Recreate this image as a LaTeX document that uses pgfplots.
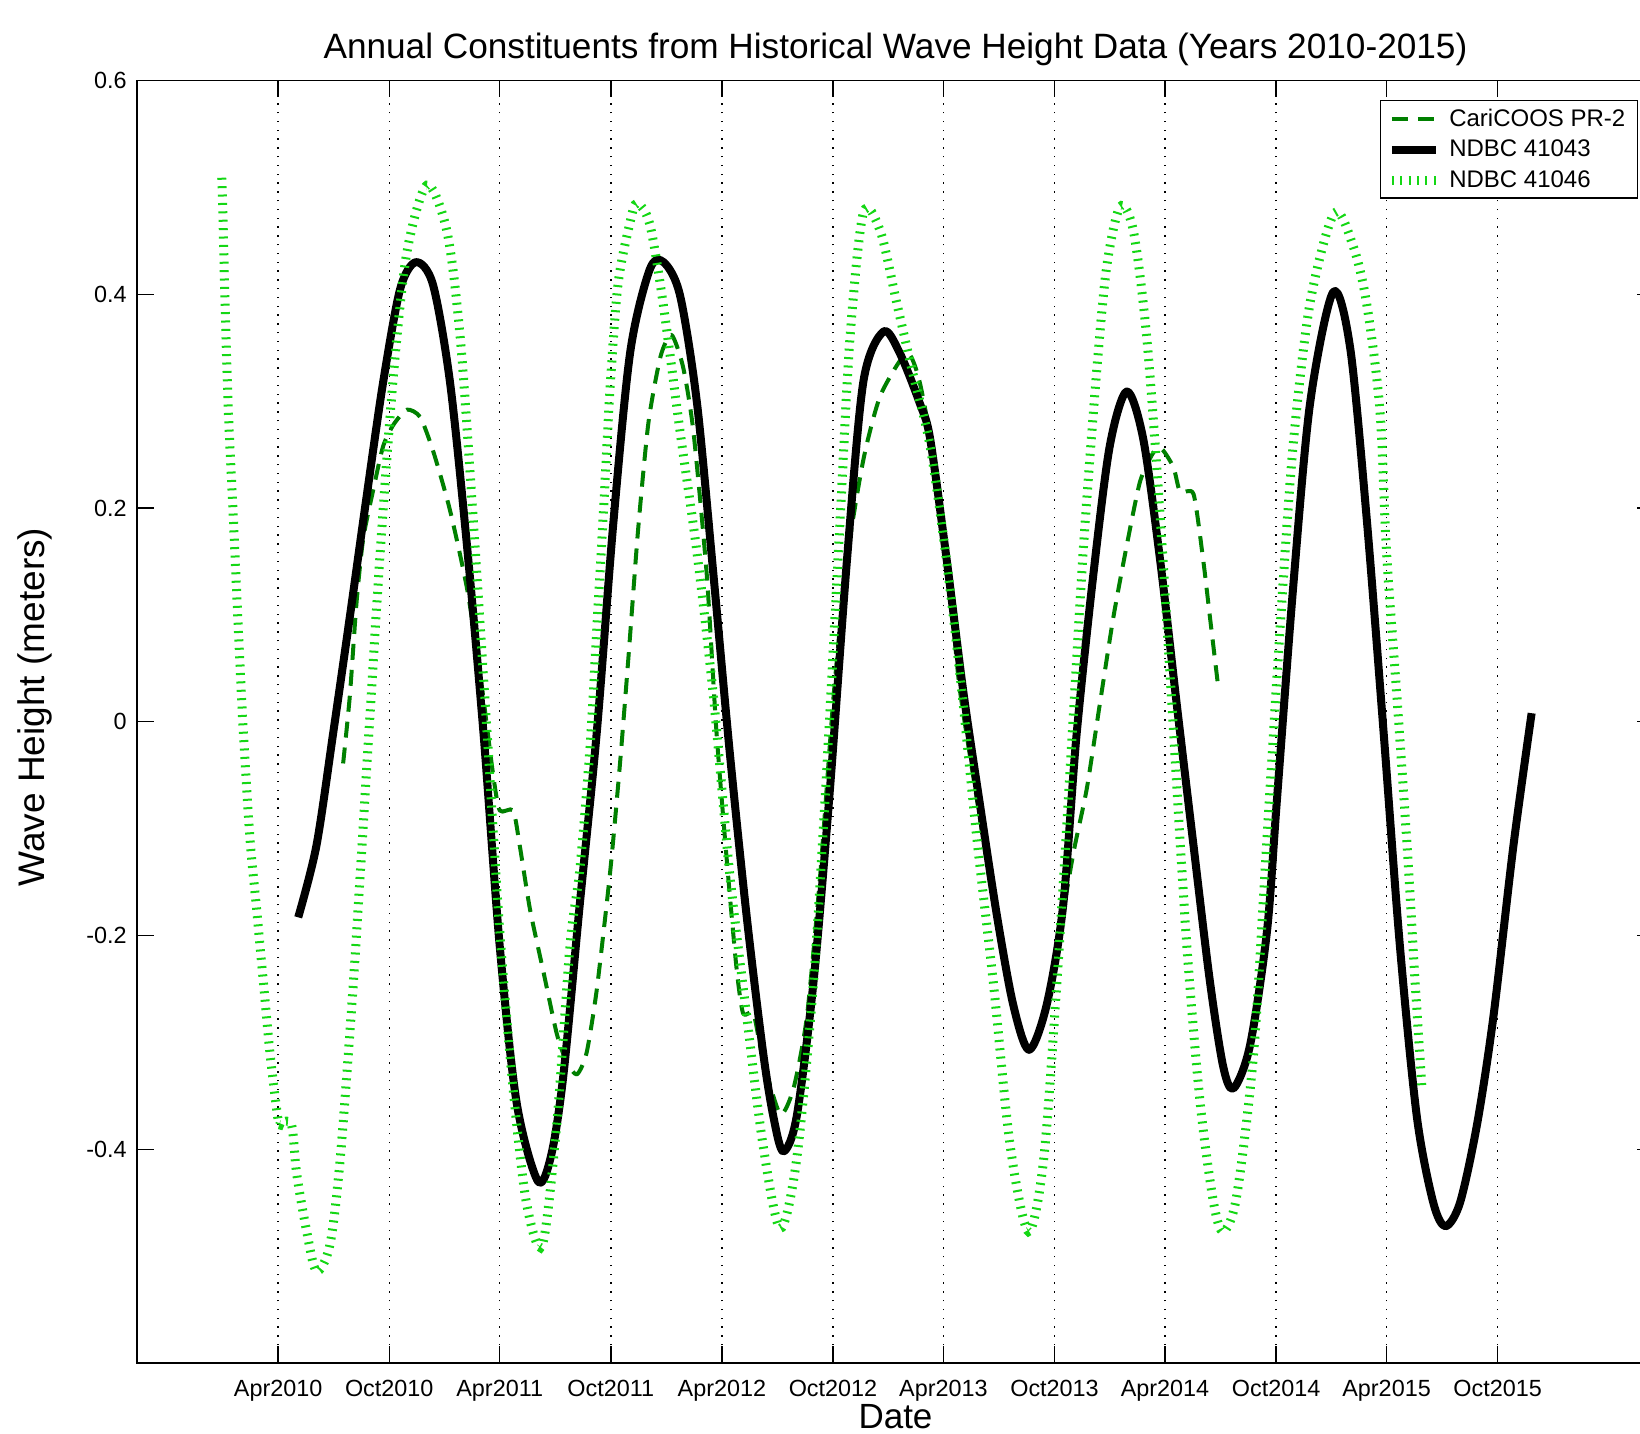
\documentclass[border=0pt]{standalone}
\usepackage{fontspec}
\setmainfont{Liberation Sans}
\usepackage{pgfplots}
\pgfplotsset{compat=1.18}
\definecolor{dgreen}{RGB}{0,128,0}
\definecolor{lgreen}{RGB}{20,215,20}
\begin{document}
\begin{tikzpicture}
\begin{axis}[
  name=ax,
  scale only axis,
  width=758.5pt, height=641.25pt,
  xmin=-142.6, xmax=2356.6, ymin=-0.6, ymax=0.6,
  xtick={90,273,455,638,821,1004,1186,1369,1551,1734,1916,2099},
  xticklabels={Apr2010,Oct2010,Apr2011,Oct2011,Apr2012,Oct2012,Apr2013,Oct2013,Apr2014,Oct2014,Apr2015,Oct2015},
  ytick={-0.4,-0.2,0,0.2,0.4,0.6},
  yticklabels={-0.4,-0.2,0,0.2,0.4,0.6},
  minor tick num=0,
  tick align=inside,
  major tick length=8.5pt,
  tick style={black, line width=0.7pt},
  axis line style={black, line width=0.7pt},
  xmajorgrids,
  major grid style={black, line width=0.7pt, dash pattern=on 0.7pt off 3.7pt},
  ticklabel style={font=\fontsize{11.7}{14}\selectfont},
  xticklabel style={anchor=base, yshift=-16.8pt},
  yticklabel style={anchor=east, xshift=-1.6pt},
  title={Annual Constituents from Historical Wave Height Data (Years 2010-2015)},
  every axis title/.style={at={(axis description cs:0.5,1)}, anchor=base, yshift=10.75pt, font=\fontsize{17.6}{20}\selectfont},
  xlabel={Date},
  every axis x label/.style={at={(axis description cs:0.5,0)}, anchor=base, yshift=-32.6pt, font=\fontsize{17.5}{20}\selectfont},
  ylabel={Wave Height (meters)},
  every axis y label/.style={at={(axis description cs:-0.067,0.5115)}, rotate=90, anchor=center, font=\fontsize{18.5}{20}\selectfont},
  legend style={at={(1,1)}, anchor=north east, xshift=-8pt, yshift=-9.75pt, draw=black, line width=0.7pt, fill=white,
    font=\fontsize{12}{14}\selectfont, inner xsep=3.5pt, inner ysep=3pt, row sep=3.4pt, column sep=2pt,
    nodes={inner xsep=2.5pt, inner ysep=1pt}},
  legend cell align=left,
  legend image code/.code={\draw[#1] (0pt,0pt) -- (22pt,0pt);},
]
\addplot[dgreen, line width=2pt, dash pattern=on 8pt off 5pt, smooth, tension=0.4, line join=round] coordinates {
(197,-0.039) (208,0.024) (219,0.111) (230,0.171) (247,0.218) (263,0.258) (280,0.278) (302,0.292) (324,0.285) (346,0.252)
(373,0.198) (401,0.125) (423,0.044) (444,-0.049) (455,-0.083) (477,-0.083) (488,-0.116) (505,-0.176) (527,-0.234) (549,-0.292)
(565,-0.318) (582,-0.330) (598,-0.310) (615,-0.250) (637,-0.140) (653,-0.040) (667,0.060) (683,0.180) (700,0.280) (720,0.342)
(738,0.362) (757,0.332) (774,0.272) (796,0.138) (812,-0.009) (829,-0.129) (845,-0.230) (856,-0.273) (873,-0.273) (889,-0.317)
(917,-0.367) (939,-0.343) (961,-0.276) (983,-0.143) (1005,0.024) (1027,0.151) (1054,0.245) (1082,0.305) (1125,0.345) (1145,0.322)
(1164,0.265) (1197,0.120) (1213,0.030) (1246,-0.090) (1274,-0.190) (1301,-0.270) (1327,-0.305) (1356,-0.268) (1378,-0.196) (1400,-0.123)
(1422,-0.063) (1444,0.018) (1466,0.098) (1488,0.165) (1510,0.225) (1532,0.252) (1546,0.255) (1565,0.238) (1576,0.215) (1598,0.213)
(1614,0.151) (1625,0.098) (1639,0.031)
};
\addplot[black, line width=4pt, smooth, tension=0.5, line join=round] coordinates {
(123,-0.183) (153,-0.116) (181,-0.009) (208,0.098) (236,0.212) (263,0.318) (291,0.405) (317,0.430) (345,0.409) (373,0.318)
(400,0.171) (428,-0.009) (455,-0.210) (483,-0.357) (518,-0.430) (540,-0.405) (560,-0.330) (587,-0.170) (615,-0.009) (642,0.185)
(670,0.346) (702,0.423) (725,0.430) (752,0.399) (780,0.298) (807,0.138) (834,-0.029) (862,-0.183) (889,-0.310) (906,-0.370)
(922,-0.402) (944,-0.370) (972,-0.243) (999,-0.063) (1027,0.151) (1054,0.318) (1087,0.365) (1114,0.345) (1147,0.298) (1164,0.265)
(1191,0.153) (1219,0.027) (1246,-0.077) (1274,-0.181) (1301,-0.265) (1327,-0.307) (1356,-0.265) (1383,-0.173) (1405,-0.014) (1433,0.138)
(1460,0.258) (1488,0.309) (1515,0.265) (1543,0.151) (1570,0.018) (1598,-0.116) (1625,-0.243) (1647,-0.323) (1664,-0.343) (1691,-0.303)
(1719,-0.196) (1735,-0.076) (1762,0.125) (1790,0.298) (1828,0.402) (1856,0.350) (1883,0.192) (1911,-0.009) (1938,-0.210) (1966,-0.370)
(1993,-0.450) (2013,-0.472) (2037,-0.450) (2065,-0.377) (2092,-0.276) (2125,-0.116) (2155,0.008)
};
\addplot[lgreen, line width=4.5pt, dash pattern=on 1pt off 3.2pt, smooth, tension=0.5] coordinates {
(-3,0.509) (-0.4,0.459) (2.4,0.392) (7.8,0.292) (16,0.192) (24,0.091) (32.5,-0.009) (43.5,-0.109) (54.6,-0.176) (65.5,-0.243)
(76.5,-0.310) (90,-0.373) (95,-0.375) (112,-0.377) (120.5,-0.423) (137,-0.477) (153,-0.514) (175,-0.490) (192,-0.410) (214,-0.243)
(236,-0.042) (258,0.158) (280,0.325) (302,0.439) (335,0.502) (368,0.459) (390,0.359) (411,0.192) (434,-0.009) (455,-0.196)
(477,-0.343) (499,-0.450) (525,-0.490) (549,-0.376) (571,-0.208) (587,-0.138) (604,-0.022) (615,0.088) (626,0.198) (637,0.314)
(650,0.410) (670,0.468) (681,0.485) (702,0.466) (724,0.392) (752,0.272) (780,0.158) (807,0.024) (834,-0.143) (862,-0.276)
(889,-0.397) (917,-0.474) (944,-0.410) (972,-0.243) (994,-0.042) (1016,0.192) (1032,0.359) (1054,0.476) (1082,0.459) (1109,0.392)
(1136,0.325) (1164,0.258) (1191,0.151) (1216,0.030) (1241,-0.109) (1268,-0.243) (1296,-0.397) (1326,-0.477) (1351,-0.410) (1373,-0.243)
(1395,-0.042) (1416,0.158) (1438,0.325) (1455,0.426) (1477,0.482) (1499,0.459) (1521,0.359) (1543,0.192) (1565,-0.009) (1587,-0.210)
(1609,-0.357) (1631,-0.450) (1647,-0.477) (1669,-0.444) (1697,-0.310) (1719,-0.109) (1741,0.091) (1762,0.258) (1790,0.392) (1830,0.476)
(1861,0.445) (1883,0.392) (1905,0.292) (1916,0.158) (1933,0.024) (1949,-0.109) (1963,-0.243) (1974,-0.340)
};
\legend{CariCOOS PR-2, NDBC 41043, NDBC 41046}
\end{axis}
\pgfresetboundingbox
\path[use as bounding box] ([xshift=-68.5pt,yshift=-35pt]ax.south west) rectangle ([xshift=751.5pt,yshift=40.25pt]ax.north west);
\end{tikzpicture}
\end{document}
